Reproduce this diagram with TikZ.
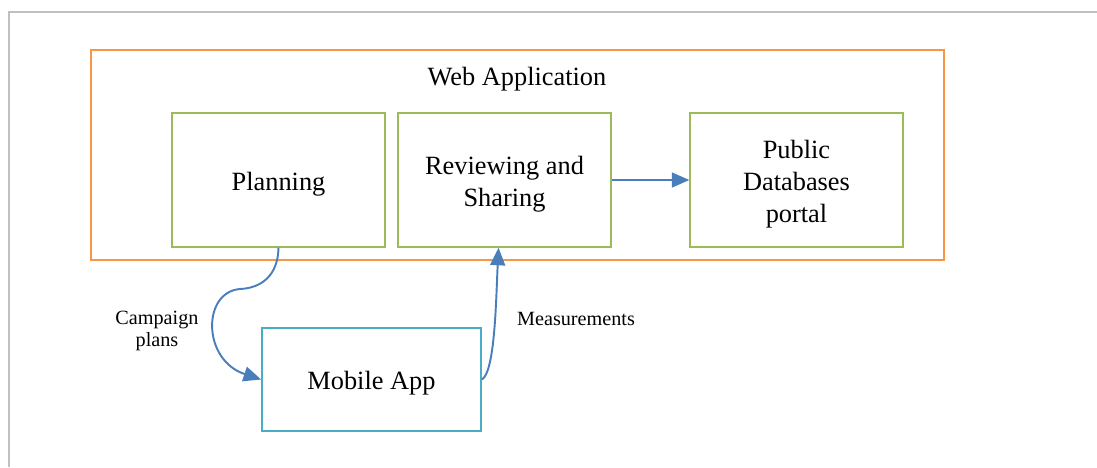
\documentclass[tikz,border=0pt]{standalone}
\usepackage{fontspec}
\setmainfont{Liberation Serif}
\usetikzlibrary{arrows.meta}
\definecolor{frameg}{HTML}{C0C0C0}
\definecolor{webor}{HTML}{F79646}
\definecolor{partgr}{HTML}{9BBB59}
\definecolor{mobcy}{HTML}{4BACC6}
\definecolor{flowbl}{HTML}{4A7EBB}
\newcommand\boxtext[1]{\raisebox{-2.2pt}[\height][\depth]{\begin{tabular}{@{}c@{}}#1\end{tabular}}}
\begin{document}
\begin{tikzpicture}[x=0.02cm,y=-0.02cm,
webbox/.style={draw=webor,line width=1.1pt,minimum width=17.06cm,minimum height=4.2cm},
partbox/.style={draw=partgr,line width=0.8pt,minimum width=4.26cm,minimum height=2.68cm,font=\fontsize{15}{18.2}\selectfont},
mobbox/.style={draw=mobcy,line width=1pt,minimum width=4.38cm,minimum height=2.06cm,font=\fontsize{15}{18.2}\selectfont},
flow/.style={draw=flowbl,line width=1.1pt,-{Triangle[length=10pt,width=8.5pt]}},
lab/.style={align=center,font=\fontsize{11.5}{13}\selectfont}]
\useasboundingbox (0,0) rectangle (1097,467);
\draw[frameg,line width=0.8pt] (9,467)--(9,12)--(1097,12);
\node[webbox] (web) at (517.5,155) {};
\node[font=\fontsize{15}{18.2}\selectfont] (webtitle) at (517,79) {Web Application};
\node[partbox] (planning) at (278.5,180) {\boxtext{Planning}};
\node[partbox] (reviewing) at (504.5,180) {\boxtext{Reviewing and\\Sharing}};
\node[partbox] (public) at (796.5,180) {\boxtext{Public\\Databases\\portal}};
\node[mobbox] (mobile) at (371.5,379.5) {\boxtext{Mobile App}};
\draw[flow] (reviewing.east)--(public.west);
\draw[flow] (planning.south)..controls (278,275) and (262,288)..(240,289)
  ..controls (202,292) and (202,360)..(mobile.west);
\draw[flow] (mobile.east)..controls (495,372) and (496,300)..([xshift=-0.12cm]reviewing.south);
\node[lab] (plans) at (157,331) {Campaign\\plans};
\node[lab] (meas) at (576,319) {Measurements};
\end{tikzpicture}
\end{document}
